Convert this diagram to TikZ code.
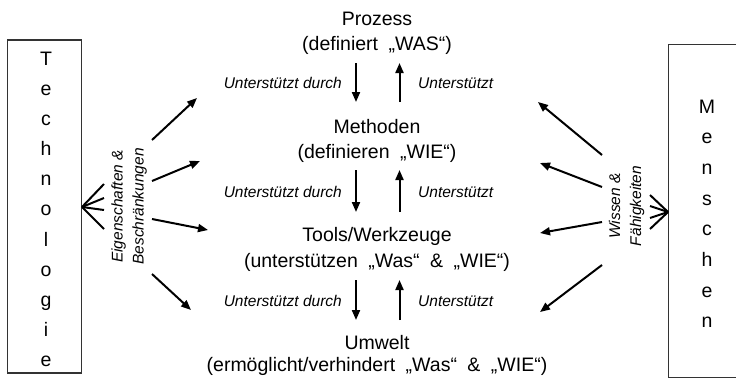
\documentclass[tikz,border=0pt]{standalone}
\usepackage{fontspec}
\setmainfont{Liberation Sans}
\usetikzlibrary{arrows.meta}
\newcommand{\widewords}{\spaceskip=10.5pt\relax}

\begin{document}
\begin{tikzpicture}[x=1pt,y=-1pt,
  frame/.style={draw=black!80, line width=1.1pt},
  boxnode/.style={rectangle, inner sep=0pt},
  letter/.style={font=\fontsize{19.5}{22}\selectfont, anchor=base, inner sep=0pt},
  title/.style={font=\fontsize{19.5}{23}\selectfont, execute at begin node=\widewords,
    anchor=base, inner sep=0pt},
  rowlabel/.style={font=\itshape\fontsize{15.5}{18}\selectfont, inner sep=0pt},
  sidelabel/.style={font=\itshape\fontsize{15.5}{21}\selectfont, align=center,
    fill=white, inner sep=3pt, rotate=90},
  vlink/.style={line width=2pt, -{Triangle[length=10pt,width=8pt]}},
  slink/.style={line width=2pt, -{Triangle[length=10pt,width=8pt]}},
  fan/.style={line width=2pt}
]
\useasboundingbox (0,0) rectangle (738,378);

% side boxes (the people box is open on its right)
\node[boxnode, frame, minimum width=74.5pt, minimum height=333pt] (tech) at (44.5,206.5) {};
\node[boxnode, minimum width=67pt, minimum height=332pt] (mensch) at (702.5,211) {};
\draw[frame] (mensch.north east) -- (mensch.north west) -- (mensch.south west) -- (mensch.south east);

\foreach \c [count=\i from 0] in {T,e,c,h,n,o,l,o,g,i,e}
  \node[letter] (tech-\i) at (46,{65+30.17*\i}) {\c};
\foreach \c [count=\i from 0] in {M,e,n,s,c,h,e,n}
  \node[letter] (mensch-\i) at (707,{113+30.7*\i}) {\c};

% central levels
\node[title] (proz)  at (377,25)  {Prozess};
\node[title] (proz2) at (377,50)  {(definiert „WAS“)};
\node[title] (meth)  at (377,133) {Methoden};
\node[title] (meth2) at (377,158) {(definieren „WIE“)};
\node[title] (tool)  at (377,241.5) {Tools/Werkzeuge};
\node[title] (tool2) at (377,267) {(unterstützen „Was“ \& „WIE“)};
\node[title] (umw)   at (377,349) {Umwelt};
\node[title] (umw2)  at (377,371) {(ermöglicht/verhindert „Was“ \& „WIE“)};

% vertical links between the levels
\foreach \r/\a/\b/\y in {1/63/102/88, 2/170/212/197, 3/280/320/306} {
  \coordinate (d\r a) at (356,\a);
  \coordinate (d\r b) at (356,\b);
  \coordinate (u\r a) at (399.5,\b);
  \coordinate (u\r b) at (399.5,\a);
  \draw[vlink] (d\r a) -- (d\r b);
  \draw[vlink] (u\r a) -- (u\r b);
  \node[rowlabel, anchor=base east] (ld\r) at (342,\y) {Unterstützt durch};
  \node[rowlabel, anchor=base west] (lu\r) at (418,\y) {Unterstützt};
}

% technology side
\coordinate (tt) at (82,207);
\foreach \i/\y in {1/184,2/198,3/210,4/229} {
  \coordinate (tf\i) at (104,\y);
  \draw[fan] (tt) -- (tf\i);
}
\node[sidelabel] (eig) at (129,206.5) {Eigenschaften \&\\Beschränkungen};
\foreach \i/\ya/\xb/\yb in {1/140/197/98, 2/181/200/161, 3/219/208/230, 4/274/191/310} {
  \coordinate (ts\i) at (152,\ya);
  \coordinate (te\i) at (\xb,\yb);
  \draw[slink] (ts\i) -- (te\i);
}

% people side
\coordinate (mt) at (668,212);
\foreach \i/\y in {1/195,2/206,3/218,4/229} {
  \coordinate (mf\i) at (650,\y);
  \draw[fan] (mt) -- (mf\i);
}
\node[sidelabel] (wis) at (626.5,206) {Wissen \&\\Fähigkeiten};
\foreach \i/\ya/\xb/\yb in {1/155/538/102, 2/187/540/163, 3/222/540/233, 4/265/540/312} {
  \coordinate (ms\i) at (602,\ya);
  \coordinate (me\i) at (\xb,\yb);
  \draw[slink] (ms\i) -- (me\i);
}
\end{tikzpicture}
\end{document}
